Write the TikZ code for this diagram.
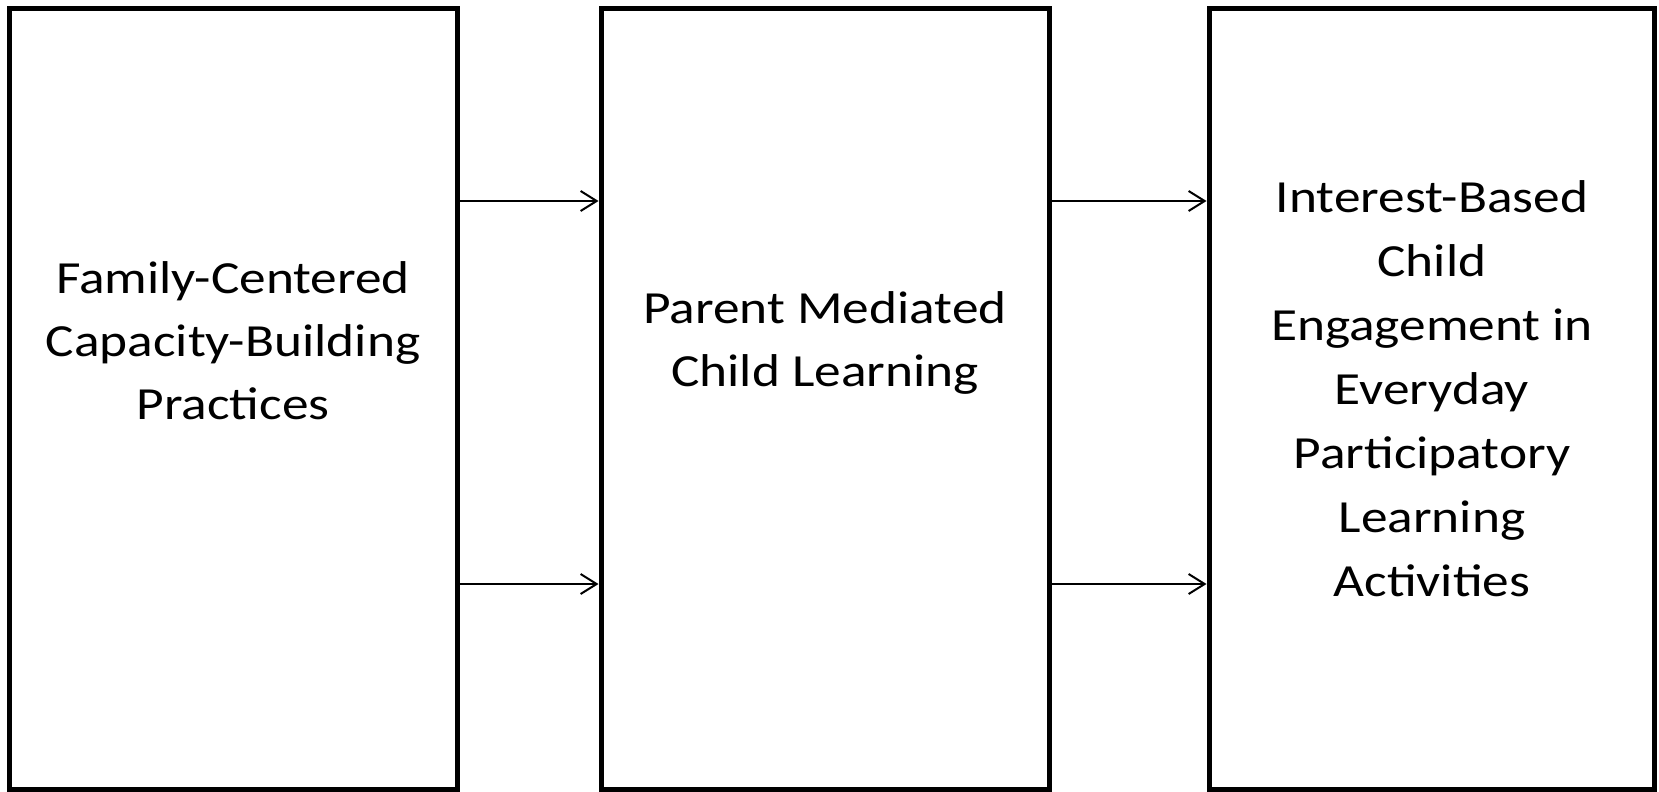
\documentclass[tikz,border=0pt]{standalone}
\usepackage{fontspec}
\setmainfont{Carlito}
\usepackage{graphicx}
\usetikzlibrary{arrows.meta}
\begin{document}
\begin{tikzpicture}[x=1pt,y=-1pt,
  box/.style={draw=black,line width=5pt,fill=none,anchor=north west,minimum height=781pt},
  conn/.style={line width=2pt,-{Straight Barb[length=16pt,width=20pt]}},
  lbl/.style={anchor=base,inner sep=0pt,font=\fontsize{46}{63}\selectfont}]
\useasboundingbox[fill=white] (0,0) rectangle (1659,792);
\node[box,minimum width=448.5pt] (b1) at (6.5,6) {};
\node[box,minimum width=448.5pt] (b2) at (598.5,6) {};
\node[box,minimum width=445pt] (b3) at (1206.5,6) {};
\node[lbl] (t1) at (233,293) {\scalebox{1.16}[1]{\begin{tabular}[t]{@{}c@{}}Family-Centered\\Capacity-Building\\Practices\end{tabular}}};
\node[lbl] (t2) at (825,323) {\scalebox{1.16}[1]{\begin{tabular}[t]{@{}c@{}}Parent Mediated\\Child Learning\end{tabular}}};
\node[lbl,font=\fontsize{46}{64}\selectfont] (t3) at (1432,212) {\scalebox{1.16}[1]{\begin{tabular}[t]{@{}c@{}}Interest-Based\\Child\\Engagement in\\Everyday\\Participatory\\Learning\\Activities\end{tabular}}};
\draw[conn] (b1.east |- 0,201) -- (b2.west |- 0,201);
\draw[conn] (b1.east |- 0,584) -- (b2.west |- 0,584);
\draw[conn] (b2.east |- 0,201) -- (b3.west |- 0,201);
\draw[conn] (b2.east |- 0,584) -- (b3.west |- 0,584);
\end{tikzpicture}
\end{document}
